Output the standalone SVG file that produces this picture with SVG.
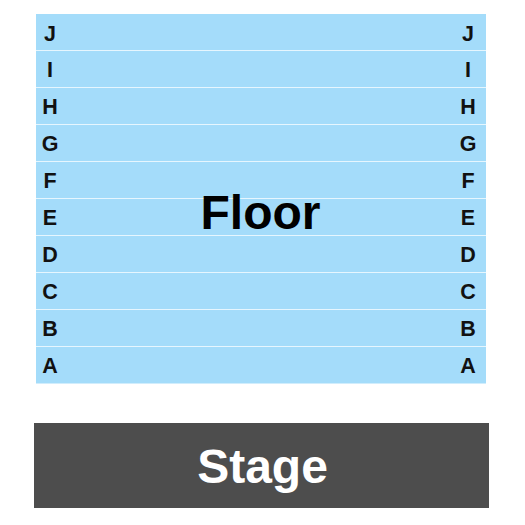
<svg xmlns="http://www.w3.org/2000/svg" width="525" height="525" viewBox="0 0 525 525">
<style>
.row{fill:#a4dcfa}
.sep{stroke:#e6f6fe;stroke-width:1}
.lbl{font-family:"Liberation Sans",Arial,sans-serif;font-weight:bold;font-size:21.5px;fill:#111;text-anchor:middle}
.big{font-family:"Liberation Sans",Arial,sans-serif;font-weight:bold;font-size:48px;text-anchor:middle}
</style>
<rect width="525" height="525" fill="#fff"/>
<g id="floor">
<rect class="row" x="36" y="14" width="450" height="369.5"/>
<g class="sep">
<line x1="36" x2="486" y1="50.5" y2="50.5"/>
<line x1="36" x2="486" y1="87.5" y2="87.5"/>
<line x1="36" x2="486" y1="124.5" y2="124.5"/>
<line x1="36" x2="486" y1="161.5" y2="161.5"/>
<line x1="36" x2="486" y1="198.5" y2="198.5"/>
<line x1="36" x2="486" y1="235.5" y2="235.5"/>
<line x1="36" x2="486" y1="272.5" y2="272.5"/>
<line x1="36" x2="486" y1="309.5" y2="309.5"/>
<line x1="36" x2="486" y1="346.5" y2="346.5"/>
</g>
<g class="lbl">
<text x="50" y="40.5">J</text><text x="468" y="40.5">J</text>
<text x="50" y="77.4">I</text><text x="468" y="77.4">I</text>
<text x="50" y="114.3">H</text><text x="468" y="114.3">H</text>
<text x="50" y="151.2">G</text><text x="468" y="151.2">G</text>
<text x="50" y="188.1">F</text><text x="468" y="188.1">F</text>
<text x="50" y="225">E</text><text x="468" y="225">E</text>
<text x="50" y="261.9">D</text><text x="468" y="261.9">D</text>
<text x="50" y="298.8">C</text><text x="468" y="298.8">C</text>
<text x="50" y="335.7">B</text><text x="468" y="335.7">B</text>
<text x="50" y="372.6">A</text><text x="468" y="372.6">A</text>
</g>
<text class="big" x="260.5" y="228.5" fill="#000">Floor</text>
</g>
<g id="stage">
<rect x="34" y="423" width="455" height="85" fill="#4d4d4d"/>
<text class="big" x="262.5" y="482.5" fill="#fff">Stage</text>
</g>
</svg>
